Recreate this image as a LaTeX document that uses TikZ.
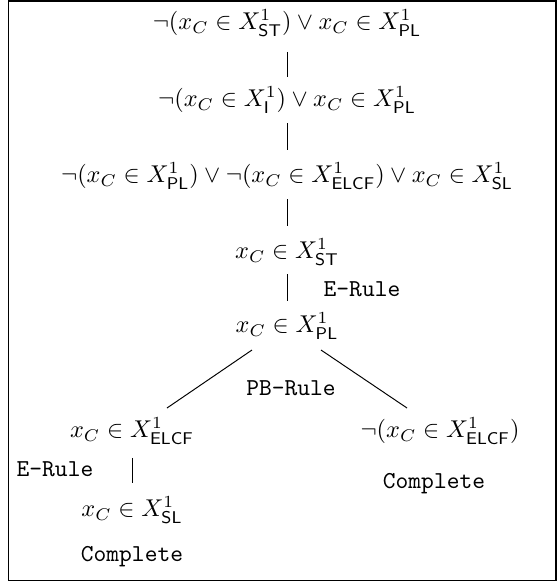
\documentclass[tikz,border=0pt]{standalone}
\usepackage{amsmath}
\begin{document}
\begin{tikzpicture}[x=0.4115pt,y=-0.4115pt,
  tnode/.style={inner sep=0pt,anchor=center,text height=8.5pt,text depth=3pt},
  lbl/.style={inner sep=0pt,anchor=center,font=\ttfamily},
  edge/.style={line width=0.4pt}]
\useasboundingbox (0,0) rectangle (560,582);
\draw[line width=0.6pt] (8.5,1) rectangle (556,580.5);
\node[tnode] (n1) at (287,23) {$\neg(x_C\in X^1_{\mathsf{ST}})\vee x_C\in X^1_{\mathsf{PL}}$};
\node[tnode] (n2) at (287,100) {$\neg(x_C\in X^1_{\mathsf{I}})\vee x_C\in X^1_{\mathsf{PL}}$};
\node[tnode] (n3) at (287,176) {$\neg(x_C\in X^1_{\mathsf{PL}})\vee\neg(x_C\in X^1_{\mathsf{ELCF}})\vee x_C\in X^1_{\mathsf{SL}}$};
\node[tnode] (n4) at (287,252) {$x_C\in X^1_{\mathsf{ST}}$};
\node[tnode] (n5) at (287,326) {$x_C\in X^1_{\mathsf{PL}}$};
\node[tnode] (n6) at (132,431) {$x_C\in X^1_{\mathsf{ELCF}}$};
\node[tnode] (n7) at (440,431) {$\neg(x_C\in X^1_{\mathsf{ELCF}})$};
\node[tnode] (n8) at (132,510) {$x_C\in X^1_{\mathsf{SL}}$};
\node[lbl] (e1) at (362,289) {E-Rule};
\node[lbl] (pb) at (291,388) {PB-Rule};
\node[lbl] (e2) at (55,469) {E-Rule};
\node[lbl] (c1) at (434,484) {Complete};
\node[lbl] (c2) at (132,557) {Complete};
\draw[edge,shorten <=11.9pt,shorten >=9.5pt] (n1.center) -- (n2.center);
\draw[edge,shorten <=9.5pt,shorten >=10.7pt] (n2.center) -- (n3.center);
\draw[edge,shorten <=9.5pt,shorten >=10.7pt] (n3.center) -- (n4.center);
\draw[edge,shorten <=9.1pt,shorten >=10.3pt] (n4.center) -- (n5.center);
\draw[edge,shorten <=11.1pt,shorten >=11.1pt] (n6.center) -- (n8.center);
\draw[edge] ([shift={(-35,24)}]n5.center) -- ([shift={(35,-23)}]n6.center);
\draw[edge] ([shift={(34,24)}]n5.center) -- ([shift={(-33,-23)}]n7.center);
\end{tikzpicture}
\end{document}
